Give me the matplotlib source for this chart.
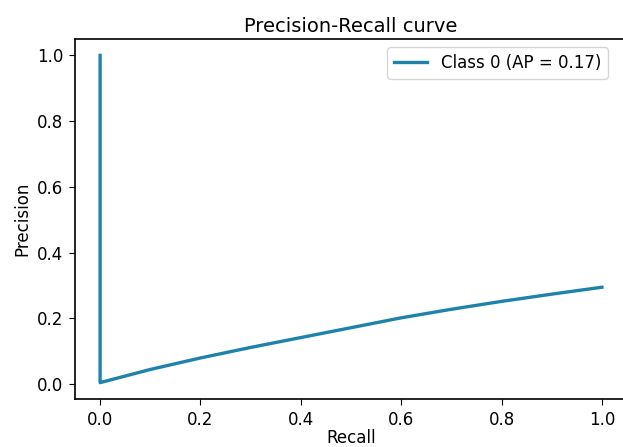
import matplotlib
matplotlib.use("Agg")
import matplotlib.pyplot as plt

# precision-recall curve
recall = [0.0, 0.0, 0.05, 0.1, 0.2, 0.3, 0.4, 0.5, 0.6, 0.7, 0.8, 0.9, 1.0]
precision = [1.0, 0.005, 0.025, 0.045, 0.08, 0.112, 0.142, 0.172, 0.202, 0.228, 0.252, 0.274, 0.295]
label = "Class 0 (AP = 0.17)"

# original looks like a default plot scaled up ~1.2x
plt.rcParams["font.size"] = 12
plt.rcParams["axes.linewidth"] = 1.2
plt.rcParams["xtick.major.size"] = 4.2
plt.rcParams["ytick.major.size"] = 4.2
plt.rcParams["xtick.major.pad"] = 4.2
plt.rcParams["ytick.major.pad"] = 4.2

fig = plt.figure(figsize=(6.23, 4.47), dpi=100)
ax = fig.add_axes([0.1204, 0.1074, 0.886, 0.8054])

ax.plot(recall, precision, color="#1f82aa", lw=2.4, label=label)
ax.set_xlabel("Recall", labelpad=0)
ax.set_ylabel("Precision")
ax.set_title("Precision-Recall curve", fontsize=14, pad=5)
ax.legend(loc="upper right", bbox_to_anchor=(0.98, 1.0))

fig.savefig("out.png", dpi=100)
